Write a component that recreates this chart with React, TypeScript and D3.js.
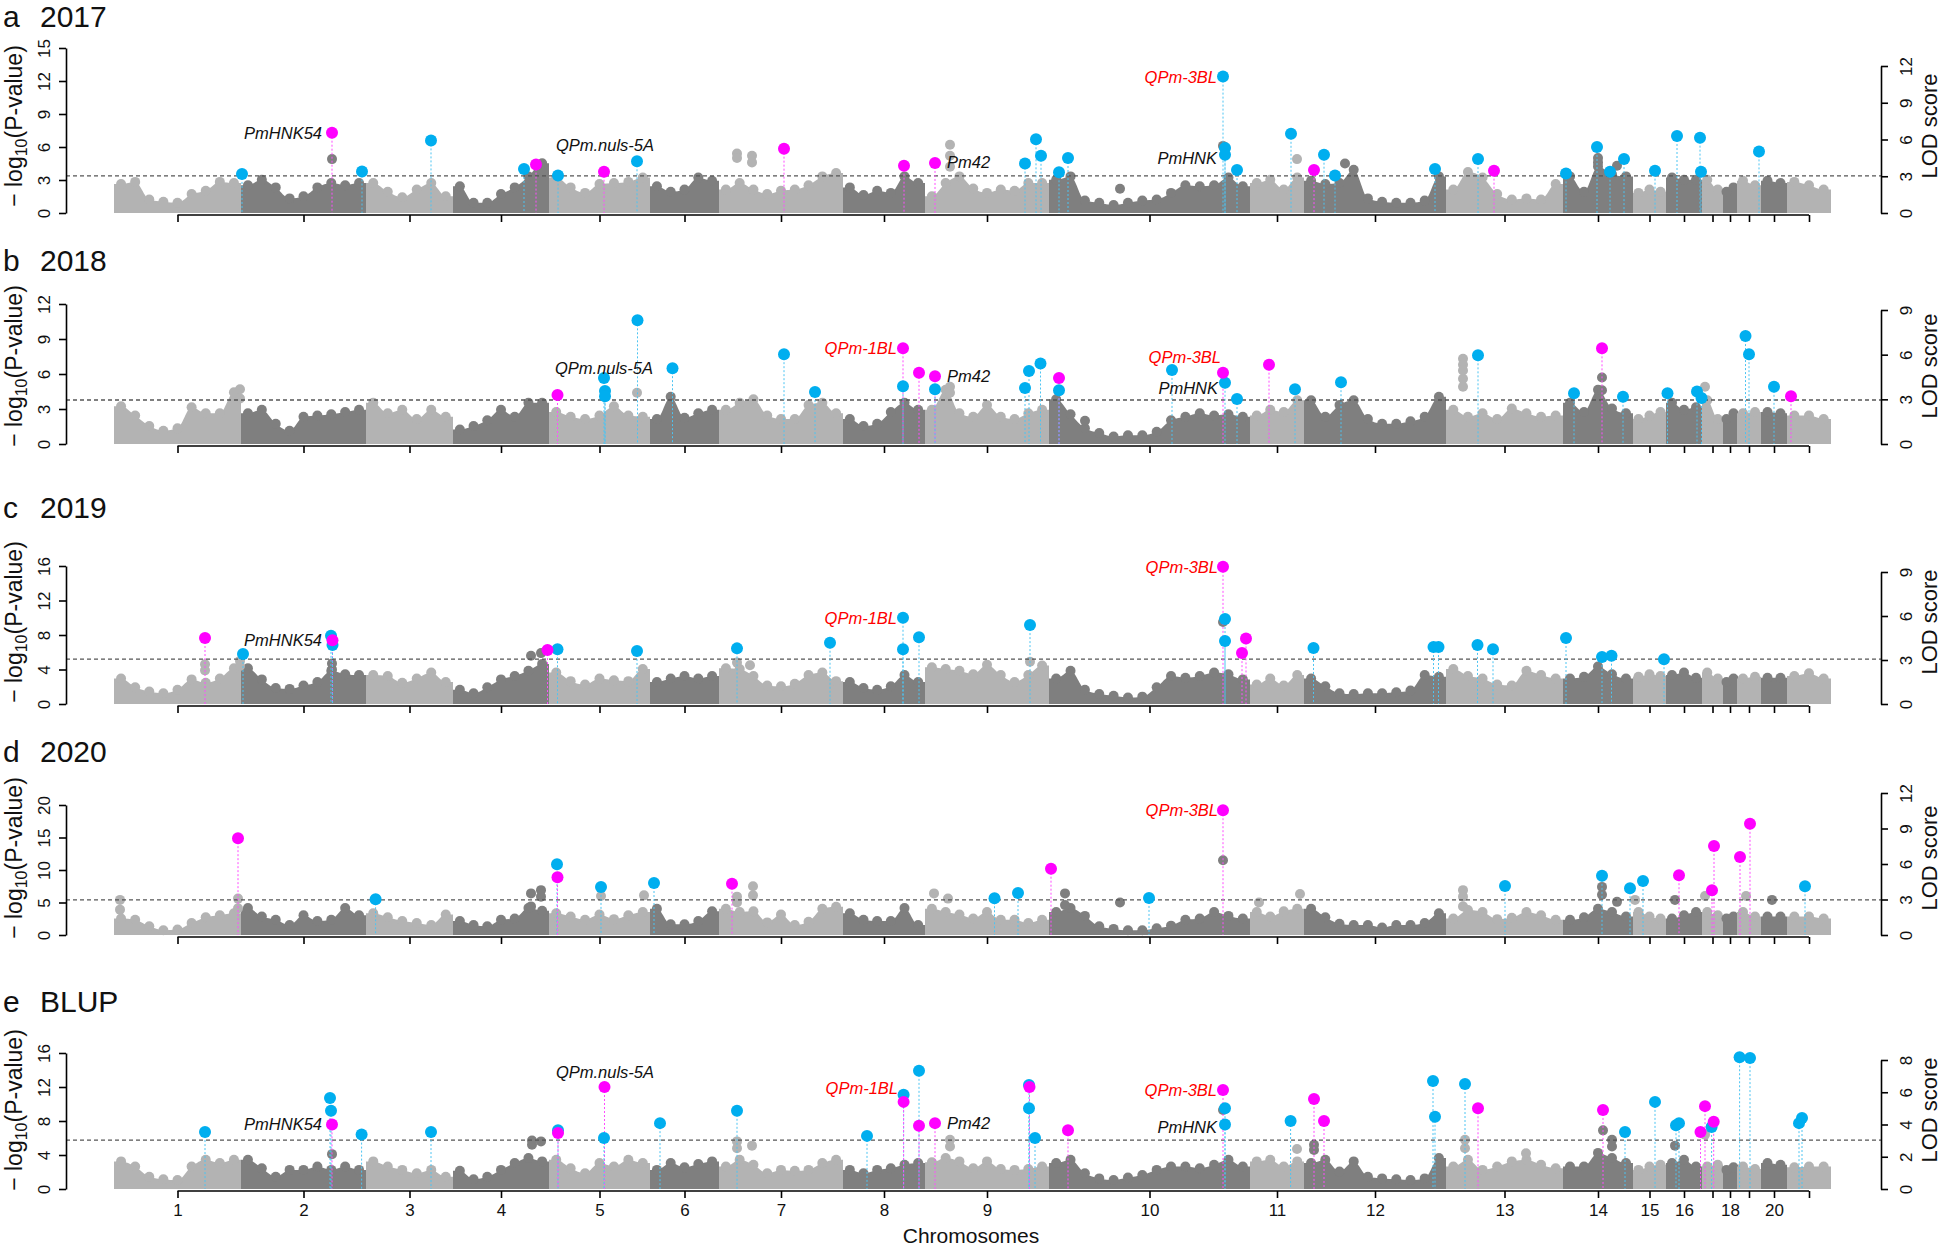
import React, { useEffect, useRef } from 'react';
import * as d3 from 'd3';

// chromosome sizes (relative units) and names
const chromLen = [127, 125, 87, 96, 101, 69, 124, 82, 124, 201, 54, 142, 117, 70, 33, 36, 21, 14, 24, 26, 44];
const chromNames = d3.range(1, 22).map(String);
const hiddenTickLabels = ['17', '19', '21'];

const letters = ['a', 'b', 'c', 'd', 'e'];
const titles = ['2017', '2018', '2019', '2020', 'BLUP'];
const pTicks = [[0, 3, 6, 9, 12, 15], [0, 3, 6, 9, 12], [0, 4, 8, 12, 16], [0, 5, 10, 15, 20], [0, 4, 8, 12, 16]];
const lodTicks = [[0, 3, 6, 9, 12], [0, 3, 6, 9], [0, 3, 6, 9], [0, 3, 6, 9, 12], [0, 2, 4, 6, 8]];
const thresholds = [3.38, 3.77, 5.2, 5.4, 5.76];

// top of the dense background SNP cloud, per chromosome, -log10(P)
const mass2017 = [
  [2.9, 3.1, 1.5, 1.3, 1.2, 2.0, 2.3, 3.1, 3.0],
  [2.8, 3.3, 2.6, 1.6, 1.8, 2.6, 3.0, 2.8, 3.0],
  [3.0, 2.2, 1.7, 2.4, 3.0, 1.8],
  [2.7, 1.2, 1.2, 2.0, 2.6, 3.6, 4.8],
  [3.5, 2.6, 2.1, 2.9, 3.0, 3.1, 3.5],
  [2.7, 2.2, 2.4, 3.5, 3.2],
  [2.4, 3.0, 2.4, 2.0, 2.3, 2.4, 2.8, 3.6, 3.9],
  [2.6, 1.9, 2.3, 2.1, 3.6, 3.0],
  [1.8, 3.0, 3.6, 2.5, 2.1, 2.4, 2.3, 3.0, 3.0],
  [3.3, 3.6, 1.4, 1.2, 1.0, 1.2, 1.4, 1.5, 2.1, 2.8, 2.7, 2.8, 3.5, 2.7],
  [3.0, 3.3, 2.4, 3.5],
  [3.2, 2.9, 3.0, 4.2, 1.6, 1.3, 1.2, 1.2, 1.4, 3.6],
  [2.4, 4.0, 3.5, 2.0, 1.5, 1.6, 1.5, 2.9],
  [3.6, 2.2, 4.5, 3.8, 3.6],
  [2.1, 2.4, 2.2],
  [3.5, 3.3, 3.3],
  [3.3, 2.4],
  [2.2, 2.6],
  [3.2, 2.8],
  [3.2, 3.0],
  [3.1, 2.8, 2.4],
];
const mass2018 = [
  [3.5, 2.7, 1.8, 1.4, 1.6, 3.4, 2.9, 2.9, 4.7],
  [2.9, 3.2, 2.0, 1.4, 2.6, 2.7, 2.8, 3.0, 3.2],
  [3.8, 2.9, 3.2, 2.4, 3.2, 2.6],
  [1.5, 1.8, 2.3, 3.2, 2.6, 3.8, 3.8],
  [3.0, 2.6, 2.4, 2.7, 3.5, 2.7, 2.6],
  [2.4, 4.3, 2.5, 2.9, 3.2],
  [3.2, 3.8, 4.1, 2.7, 2.4, 2.4, 3.6, 3.8, 2.9],
  [2.4, 1.8, 2.0, 3.0, 3.8, 3.2],
  [3.2, 4.9, 2.9, 2.6, 3.6, 2.6, 2.4, 2.9, 3.2],
  [4.1, 2.8, 1.6, 1.2, 0.9, 1.0, 1.0, 1.3, 2.3, 2.6, 2.9, 2.7, 2.8, 2.6],
  [2.7, 3.2, 3.0, 4.0],
  [4.0, 2.6, 3.6, 4.0, 2.4, 2.0, 2.0, 2.2, 2.6, 4.3],
  [3.2, 2.6, 2.9, 2.4, 3.3, 2.9, 2.6, 2.7],
  [3.8, 3.0, 4.9, 3.3, 2.9],
  [2.4, 2.7, 3.0],
  [3.8, 3.2, 3.4],
  [4.0, 2.4],
  [2.4, 2.9],
  [2.9, 3.0],
  [3.0, 2.9],
  [2.7, 2.7, 2.4],
];
const mass2019 = [
  [3.3, 2.3, 1.8, 1.6, 2.0, 3.2, 2.8, 3.3, 4.5],
  [4.5, 3.2, 2.2, 2.1, 2.5, 2.9, 4.2, 3.8, 3.7],
  [3.7, 3.6, 2.8, 3.3, 4.0, 2.9],
  [2.0, 1.6, 2.3, 3.2, 3.6, 4.2, 5.0],
  [4.0, 3.0, 2.6, 3.3, 3.1, 3.0, 4.4],
  [2.9, 3.3, 3.6, 3.3, 3.6],
  [4.5, 4.4, 3.6, 2.5, 2.4, 2.7, 3.7, 4.0, 3.0],
  [2.9, 2.2, 2.0, 2.4, 3.7, 2.9],
  [4.6, 4.4, 4.2, 3.8, 4.9, 3.7, 2.9, 3.7, 4.8],
  [3.3, 4.2, 2.0, 1.5, 1.3, 1.1, 1.2, 2.3, 3.6, 3.4, 3.6, 4.0, 3.8, 3.2],
  [2.6, 3.3, 2.5, 3.7],
  [3.3, 2.4, 1.6, 1.5, 1.6, 1.6, 1.7, 1.9, 3.7, 3.5],
  [4.4, 3.6, 3.3, 2.6, 2.5, 4.2, 3.7, 3.3],
  [3.3, 3.5, 4.7, 3.8, 3.3],
  [3.5, 3.8, 3.6],
  [3.7, 4.0, 3.4],
  [4.0, 3.3],
  [2.9, 3.3],
  [3.3, 3.5],
  [3.4, 3.4],
  [3.6, 3.9, 3.3],
];
const mass2020 = [
  [3.0, 2.8, 1.8, 1.2, 1.3, 2.3, 3.2, 3.5, 3.8],
  [4.6, 3.3, 2.8, 2.0, 3.5, 2.6, 2.8, 4.6, 3.5],
  [3.8, 3.2, 2.6, 2.3, 2.0, 3.6],
  [2.6, 2.0, 1.8, 2.8, 3.0, 4.6, 4.2],
  [3.8, 3.3, 2.8, 3.6, 2.9, 3.5, 4.0],
  [4.5, 2.1, 2.1, 2.6, 4.1],
  [4.5, 4.0, 4.1, 2.4, 3.6, 2.0, 2.5, 4.5, 4.8],
  [3.8, 2.8, 2.6, 2.6, 4.6, 2.0],
  [4.5, 4.0, 3.6, 3.0, 4.0, 2.8, 2.8, 2.3, 2.8],
  [4.0, 4.6, 3.4, 1.8, 1.4, 1.2, 1.2, 1.5, 1.9, 2.8, 3.0, 4.0, 3.4, 3.0],
  [4.0, 3.3, 4.1, 4.5],
  [4.5, 3.2, 2.2, 2.0, 2.0, 1.6, 2.0, 2.0, 2.3, 3.8],
  [3.0, 4.3, 4.0, 2.9, 3.1, 4.0, 3.5, 2.8],
  [2.8, 3.2, 4.5, 4.0, 3.3],
  [4.0, 3.3, 3.0],
  [3.0, 3.5, 4.0],
  [4.0, 3.5],
  [3.0, 3.3],
  [4.0, 3.3],
  [3.3, 3.3],
  [3.3, 3.3, 3.0],
];
const massBLUP = [
  [3.6, 3.0, 1.8, 1.5, 1.4, 3.0, 3.8, 3.4, 3.8],
  [3.8, 2.8, 1.8, 2.6, 2.6, 3.0, 2.6, 3.0, 2.6],
  [3.6, 3.0, 2.6, 2.2, 2.6, 1.8],
  [2.5, 1.5, 1.8, 2.6, 3.4, 4.0, 3.6],
  [3.8, 2.8, 2.2, 3.4, 3.0, 3.8, 3.4],
  [2.6, 3.4, 2.9, 3.3, 3.6],
  [3.0, 3.8, 3.2, 2.2, 2.6, 2.5, 2.6, 3.4, 3.8],
  [2.6, 2.2, 2.6, 2.8, 3.2, 3.4],
  [3.5, 4.0, 3.6, 2.8, 3.6, 2.7, 2.6, 2.7, 3.0],
  [3.4, 3.8, 2.2, 1.6, 1.4, 1.7, 2.0, 2.6, 3.0, 3.0, 2.8, 3.2, 3.8, 3.0],
  [3.6, 3.8, 3.0, 3.6],
  [3.4, 3.8, 2.4, 3.6, 1.8, 1.6, 1.5, 1.4, 1.6, 4.0],
  [3.0, 3.8, 2.6, 3.0, 3.6, 3.8, 3.2, 2.8],
  [3.0, 3.0, 4.6, 4.0, 3.4],
  [2.6, 3.0, 3.2],
  [3.4, 3.8, 3.0],
  [3.0, 3.2],
  [2.6, 2.9],
  [3.0, 2.7],
  [3.4, 3.2],
  [2.9, 3.0, 3.0],
];

// isolated grey SNPs above the cloud: [chromosome, position, -log10(P)]
const out2017 = [[2, 91, 4.9], [7, 18, 5.4], [7, 18, 5.0], [7, 33, 5.2], [7, 33, 4.6], [9, 25, 6.2], [9, 25, 5.2], [9, 25, 4.2], [10, 174, 6.1], [10, 71, 2.2], [11, 47, 4.9], [12, 41, 4.5], [14, 35, 5.0], [14, 35, 4.6], [14, 54, 4.3]];
const out2018 = [[1, 126, 4.7], [1, 126, 3.9], [5, 88, 4.4], [9, 25, 4.9], [9, 25, 4.4], [10, 36, 2.0], [13, 17, 7.3], [13, 17, 6.8], [13, 17, 6.3], [13, 17, 5.6], [13, 17, 4.9], [14, 39, 5.7], [14, 39, 4.6], [17, 3, 4.9]];
const out2019 = [[1, 91, 4.6], [1, 91, 3.9], [1, 126, 5.0], [1, 126, 4.4], [2, 91, 4.7], [2, 91, 4.0], [4, 78, 5.6], [4, 88, 5.9], [7, 18, 4.8], [7, 31, 4.5], [9, 105, 4.9], [10, 174, 9.5]];
const out2020 = [[1, 6, 5.4], [1, 6, 3.9], [1, 124, 5.6], [1, 124, 4.1], [4, 78, 6.4], [4, 78, 4.4], [4, 88, 6.9], [4, 88, 5.9], [5, 52, 6.0], [5, 95, 6.1], [7, 34, 7.5], [7, 34, 6.1], [7, 18, 5.9], [7, 18, 5.0], [9, 9, 6.4], [9, 23, 5.6], [10, 16, 6.4], [10, 16, 4.6], [10, 174, 11.5], [10, 71, 5.0], [11, 9, 5.0], [11, 50, 6.3], [13, 17, 6.9], [13, 17, 5.9], [13, 17, 4.4], [14, 39, 7.4], [14, 39, 6.2], [14, 54, 5.1], [15, 2, 5.4], [16, 9, 5.4], [17, 3, 6.0], [19, 9, 6.0], [20, 11, 5.4]];
const outBLUP = [[2, 91, 4.1], [4, 79, 5.7], [4, 79, 5.2], [4, 88, 5.6], [7, 18, 5.6], [7, 18, 4.8], [7, 33, 5.1], [9, 25, 5.8], [9, 25, 5.0], [10, 174, 9.3], [11, 47, 4.7], [12, 10, 5.2], [12, 10, 4.6], [13, 19, 5.8], [13, 19, 4.8], [13, 80, 4.2], [14, 40, 6.9], [14, 49, 5.8], [14, 49, 5.0], [16, 9, 5.1], [17, 3, 6.4]];

// highlighted loci: [chromosome, position, -log10(P), 'c' cyan | 'm' magenta]
const sig2017 = [
  [2, 1, 3.55, 'c'], [2, 91, 7.3, 'm'], [2, 121, 3.77, 'c'], [3, 65, 6.6, 'c'], [4, 71, 4.0, 'c'], [4, 83, 4.4, 'm'],
  [5, 9, 3.4, 'c'], [5, 55, 3.75, 'm'], [5, 88, 4.7, 'c'], [7, 65, 5.85, 'm'], [8, 61, 4.3, 'm'], [9, 10, 4.55, 'm'],
  [9, 100, 4.5, 'c'], [9, 111, 6.7, 'c'], [9, 116, 5.2, 'c'], [10, 10, 3.7, 'c'], [10, 19, 5.0, 'c'], [10, 174, 12.4, 'c'],
  [10, 176, 5.9, 'c'], [10, 176, 5.3, 'c'], [10, 188, 3.9, 'c'], [11, 41, 7.2, 'c'], [12, 10, 3.9, 'm'], [12, 20, 5.3, 'c'],
  [12, 31, 3.4, 'c'], [12, 131, 4.0, 'c'], [13, 32, 4.9, 'c'], [13, 48, 3.85, 'm'], [14, 3, 3.6, 'c'], [14, 34, 6.0, 'c'],
  [14, 47, 3.75, 'c'], [14, 61, 4.9, 'c'], [15, 22, 3.85, 'c'], [16, 11, 7.0, 'c'], [16, 34, 6.85, 'c'], [16, 35, 3.75, 'c'],
  [19, 22, 5.6, 'c'],
];
const sig2018 = [
  [5, 8.5, 4.2, 'm'], [5, 55, 5.65, 'c'], [5, 56, 4.55, 'c'], [5, 56, 4.1, 'c'], [5, 88.5, 10.6, 'c'], [6, 22.5, 6.5, 'c'],
  [7, 65, 7.7, 'c'], [7, 96, 4.45, 'c'], [8, 60, 8.2, 'm'], [8, 60, 4.95, 'c'], [8, 76, 6.1, 'm'], [9, 10, 5.8, 'm'],
  [9, 10, 4.7, 'c'], [9, 100, 4.8, 'c'], [9, 104, 6.25, 'c'], [9, 115.5, 6.9, 'c'], [10, 10, 5.65, 'm'], [10, 10, 4.6, 'c'],
  [10, 123, 6.35, 'c'], [10, 174, 6.1, 'm'], [10, 176, 5.25, 'c'], [10, 188, 3.85, 'c'], [11, 19, 6.8, 'm'], [11, 45, 4.7, 'c'],
  [12, 37, 5.3, 'c'], [13, 32, 7.6, 'c'], [14, 11, 4.35, 'c'], [14, 39, 8.2, 'm'], [14, 60, 4.05, 'c'], [16, 1.5, 4.35, 'c'],
  [16, 31, 4.5, 'c'], [16, 35.5, 3.95, 'c'], [19, 8.5, 9.25, 'c'], [19, 12, 7.7, 'c'], [20, 13, 4.9, 'c'], [21, 4, 4.1, 'm'],
];
const sig2019 = [
  [1, 91, 7.65, 'm'], [2, 2, 5.8, 'c'], [2, 90, 7.9, 'c'], [2, 91.5, 7.4, 'm'], [2, 91.5, 6.85, 'c'], [4, 94.5, 6.25, 'm'],
  [5, 8.5, 6.35, 'c'], [5, 88, 6.15, 'c'], [7, 18, 6.45, 'c'], [7, 111, 7.1, 'c'], [8, 60, 10.0, 'c'], [8, 60, 6.35, 'c'],
  [8, 76, 7.75, 'c'], [9, 105, 9.15, 'c'], [10, 174, 15.9, 'm'], [10, 176, 9.85, 'c'], [10, 176, 7.3, 'c'], [10, 197, 7.6, 'm'],
  [10, 193, 5.9, 'm'], [12, 9.5, 6.5, 'c'], [12, 129.5, 6.6, 'c'], [12, 134.5, 6.6, 'c'], [13, 31.5, 6.85, 'c'], [13, 47, 6.35, 'c'],
  [14, 3, 7.65, 'c'], [14, 39, 5.45, 'c'], [14, 48.5, 5.6, 'c'], [15, 31, 5.2, 'c'],
];
const sig2020 = [
  [1, 124, 14.9, 'm'], [3, 9.6, 5.5, 'c'], [5, 8, 10.9, 'c'], [5, 8.5, 8.9, 'm'], [5, 52, 7.4, 'c'], [6, 4, 8.0, 'c'],
  [7, 13, 7.9, 'm'], [9, 69.5, 5.65, 'c'], [9, 93, 6.45, 'c'], [10, 2, 10.2, 'm'], [10, 100, 5.7, 'c'], [10, 174, 19.2, 'm'],
  [13, 59, 7.55, 'c'], [14, 39, 9.1, 'c'], [14, 67, 7.2, 'c'], [15, 10, 8.3, 'c'], [16, 13, 9.2, 'm'], [17, 10, 6.9, 'm'],
  [17, 12, 13.7, 'm'], [19, 3, 12.0, 'm'], [19, 13, 17.1, 'm'], [21, 18, 7.5, 'c'],
];
const sigBLUP = [
  [1, 91, 6.7, 'c'], [2, 89, 10.7, 'c'], [2, 90, 9.2, 'c'], [2, 91, 7.6, 'm'], [2, 120.6, 6.4, 'c'], [3, 65, 6.7, 'c'],
  [5, 9, 6.9, 'c'], [5, 9, 6.6, 'm'], [5, 55.5, 12.0, 'm'], [5, 55, 6.0, 'c'], [6, 10, 7.75, 'c'], [7, 18, 9.2, 'c'],
  [8, 24, 6.25, 'c'], [8, 60.6, 11.1, 'c'], [8, 60.6, 10.25, 'm'], [8, 76, 13.9, 'c'], [8, 76, 7.45, 'm'], [9, 10, 7.75, 'm'],
  [9, 104, 12.25, 'c'], [9, 104.5, 12.0, 'm'], [9, 104, 9.5, 'c'], [9, 110, 6.0, 'c'], [10, 19, 6.9, 'm'], [10, 174, 11.65, 'm'],
  [10, 176, 9.5, 'c'], [10, 176, 7.6, 'c'], [11, 40.6, 8.0, 'c'], [12, 10, 10.6, 'm'], [12, 20, 8.0, 'm'], [12, 129, 12.7, 'c'],
  [12, 131, 8.5, 'c'], [13, 19, 12.35, 'c'], [13, 32, 9.5, 'm'], [14, 40, 9.3, 'm'], [14, 62, 6.7, 'c'], [15, 22, 10.25, 'c'],
  [16, 10, 7.5, 'c'], [16, 13, 7.75, 'c'], [16, 34.5, 6.7, 'm'], [17, 3, 9.75, 'm'], [17, 9.6, 7.3, 'c'], [17, 11.7, 7.9, 'm'],
  [19, 2.6, 15.5, 'c'], [19, 13, 15.4, 'c'], [21, 12, 7.75, 'c'], [21, 15, 8.35, 'c'],
];

// gene / QTL names: [text, chromosome, position, -log10(P), anchor, red]
const lab2017 = [['PmHNK54', 2, 81, 7.3, 'end', 0], ['QPm.nuls-5A', 6, 4, 6.2, 'end', 0], ['Pm42', 9, 22, 4.6, 'start', 0], ['QPm-3BL', 10, 168, 12.4, 'end', 1], ['PmHNK', 10, 168, 5.0, 'end', 0]];
const lab2018 = [['QPm.nuls-5A', 6, 3, 6.5, 'end', 0], ['QPm-1BL', 8, 54, 8.2, 'end', 1], ['Pm42', 9, 22, 5.8, 'start', 0], ['QPm-3BL', 10, 172, 7.45, 'end', 1], ['PmHNK', 10, 169, 4.8, 'end', 0]];
const lab2019 = [['PmHNK54', 2, 81, 7.4, 'end', 0], ['QPm-1BL', 8, 54, 10.0, 'end', 1], ['QPm-3BL', 10, 169, 15.9, 'end', 1]];
const lab2020 = [['QPm-3BL', 10, 169, 19.2, 'end', 1]];
const labBLUP = [['PmHNK54', 2, 81, 7.6, 'end', 0], ['QPm.nuls-5A', 6, 4, 13.8, 'end', 0], ['QPm-1BL', 8, 55, 11.9, 'end', 1], ['Pm42', 9, 22, 7.8, 'start', 0], ['QPm-3BL', 10, 168, 11.65, 'end', 1], ['PmHNK', 10, 168, 7.3, 'end', 0]];

const masses = [mass2017, mass2018, mass2019, mass2020, massBLUP];
const outliers = [out2017, out2018, out2019, out2020, outBLUP];
const sigs = [sig2017, sig2018, sig2019, sig2020, sigBLUP];
const labels = [lab2017, lab2018, lab2019, lab2020, labBLUP];

// page layout (pixels)
const W = 1946;
const H = 1247;
const layout = [
  { zero: 213, pTop: 48, lodTop: 66, title: 27, mid: 126 },
  { zero: 444, pTop: 304, lodTop: 310, title: 271, mid: 366 },
  { zero: 704, pTop: 566, lodTop: 572, title: 518, mid: 622 },
  { zero: 935, pTop: 805, lodTop: 793, title: 762, mid: 858 },
  { zero: 1189, pTop: 1053, lodTop: 1060, title: 1012, mid: 1110 },
];
const FONT = '"Liberation Sans", Arial, Helvetica, sans-serif';
const LIGHT = '#b3b3b3';
const DARK = '#7f7f7f';
const CYAN = '#00aeef';
const MAGENTA = '#ff00ff';
const CYAN_STEM = '#4cc4f2';
const MAG_STEM = '#ff4cff';

const App = () => {
  const ref = useRef(null);

  useEffect(() => {
    document.body.style.margin = '0';
    const svg = d3.select(ref.current);
    svg.selectAll('*').remove();

    const starts = [0, ...Array.from(d3.cumsum(chromLen))];
    const total = d3.sum(chromLen);
    const x = d3.scaleLinear().domain([0, total]).range([114, 1831]);
    const gx = (c, p) => x(starts[c - 1] + p);
    const centers = chromLen.map((l, i) => starts[i] + l / 2);
    const axisLeftX = 66;
    const axisRightX = 1881;

    layout.forEach((L, k) => {
      const g = svg.append('g');
      const y = d3.scaleLinear().domain([0, d3.max(pTicks[k])]).range([L.zero, L.pTop]);
      const yl = d3.scaleLinear().domain([0, d3.max(lodTicks[k])]).range([L.zero, L.lodTop]);

      // title
      const t = g.append('text').attr('y', L.title).attr('font-family', FONT).attr('font-size', 30).attr('fill', '#111');
      t.append('tspan').attr('x', 3).text(letters[k]);
      t.append('tspan').attr('x', 40).text(titles[k]);

      // background cloud
      masses[k].forEach((vals, ci) => {
        const s = starts[ci];
        const len = chromLen[ci];
        const n = vals.length;
        const pts = vals.map((v, j) => [s + ((j + 0.5) * len) / n, v]);
        const shape = [[s, vals[0]], ...pts, [s + len, vals[n - 1]]];
        const fill = ci % 2 === 0 ? LIGHT : DARK;
        const area = d3.area()
          .x(d => x(d[0]))
          .y0(L.zero)
          .y1(d => y(d[1]) + 3)
          .curve(d3.curveMonotoneX);
        g.append('path').datum(shape).attr('d', area).attr('fill', fill);
        g.append('g').selectAll('circle')
          .data(pts)
          .enter()
          .append('circle')
          .attr('cx', d => x(d[0]))
          .attr('cy', d => y(d[1]) + 3)
          .attr('r', 5)
          .attr('fill', fill);
      });

      g.append('g').selectAll('circle')
        .data(outliers[k])
        .enter()
        .append('circle')
        .attr('cx', d => gx(d[0], d[1]))
        .attr('cy', d => y(d[2]))
        .attr('r', 5)
        .attr('fill', d => ((d[0] - 1) % 2 === 0 ? LIGHT : DARK));

      // threshold
      g.append('line')
        .attr('x1', axisLeftX).attr('x2', axisRightX)
        .attr('y1', y(thresholds[k])).attr('y2', y(thresholds[k]))
        .attr('stroke', '#555').attr('stroke-width', 1.3).attr('stroke-dasharray', '4,3');

      // stems and highlighted points
      const sig = sigs[k];
      g.append('g').selectAll('line')
        .data(sig)
        .enter()
        .append('line')
        .attr('x1', d => gx(d[0], d[1])).attr('x2', d => gx(d[0], d[1]))
        .attr('y1', d => y(d[2])).attr('y2', L.zero)
        .attr('stroke', d => (d[3] === 'c' ? CYAN_STEM : MAG_STEM))
        .attr('stroke-width', 1)
        .attr('stroke-dasharray', '2,2');
      ['c', 'm'].forEach(type => {
        g.append('g').selectAll('circle')
          .data(sig.filter(d => d[3] === type))
          .enter()
          .append('circle')
          .attr('cx', d => gx(d[0], d[1]))
          .attr('cy', d => y(d[2]))
          .attr('r', 6)
          .attr('fill', type === 'c' ? CYAN : MAGENTA);
      });

      // labels
      g.append('g').selectAll('text')
        .data(labels[k])
        .enter()
        .append('text')
        .attr('x', d => gx(d[1], d[2]))
        .attr('y', d => y(d[3]))
        .attr('dy', '0.36em')
        .attr('text-anchor', d => d[4])
        .attr('font-family', FONT)
        .attr('font-style', 'italic')
        .attr('font-size', 16.5)
        .attr('fill', d => (d[5] ? '#ff0000' : '#111'))
        .text(d => d[0]);

      // left axis
      const la = g.append('g')
        .attr('transform', `translate(${axisLeftX},0)`)
        .call(d3.axisLeft(y).tickValues(pTicks[k]).tickSize(7).tickSizeOuter(0));
      la.select('.domain').attr('stroke-width', 1.6);
      la.selectAll('.tick line').attr('stroke-width', 1.6);
      la.selectAll('.tick text')
        .attr('x', null).attr('y', null)
        .attr('transform', 'translate(-22,0) rotate(-90)')
        .attr('text-anchor', 'middle')
        .attr('dy', '0.35em')
        .attr('font-family', FONT)
        .attr('font-size', 17)
        .attr('fill', '#111');

      // right LOD axis
      const ra = g.append('g')
        .attr('transform', `translate(${axisRightX},0)`)
        .call(d3.axisRight(yl).tickValues(lodTicks[k]).tickSize(7).tickSizeOuter(0));
      ra.select('.domain').attr('stroke-width', 1.6);
      ra.selectAll('.tick line').attr('stroke-width', 1.6);
      ra.selectAll('.tick text')
        .attr('x', null).attr('y', null)
        .attr('transform', 'translate(25,0) rotate(-90)')
        .attr('text-anchor', 'middle')
        .attr('dy', '0.35em')
        .attr('font-family', FONT)
        .attr('font-size', 17)
        .attr('fill', '#111');

      // axis titles
      const yt = g.append('text')
        .attr('transform', `translate(14,${L.mid}) rotate(-90)`)
        .attr('text-anchor', 'middle')
        .attr('dy', '0.35em')
        .attr('font-family', FONT)
        .attr('font-size', 23)
        .attr('fill', '#111');
      yt.append('tspan').text('\u2212 log');
      yt.append('tspan').attr('font-size', 16).attr('dy', 5).text('10');
      yt.append('tspan').attr('dy', -5).text('(P-value)');

      g.append('text')
        .attr('transform', `translate(1929,${L.mid}) rotate(-90)`)
        .attr('text-anchor', 'middle')
        .attr('dy', '0.35em')
        .attr('font-family', FONT)
        .attr('font-size', 22)
        .attr('fill', '#111')
        .text('LOD score');

      // chromosome axis
      const xa = g.append('g')
        .attr('transform', `translate(0,${L.zero + 2})`)
        .call(d3.axisBottom(x)
          .tickValues(centers)
          .tickSize(7)
          .tickSizeOuter(0)
          .tickFormat((d, i) => (k === 4 && !hiddenTickLabels.includes(chromNames[i]) ? chromNames[i] : '')));
      xa.select('.domain').remove();
      xa.append('line')
        .attr('x1', x(centers[0])).attr('x2', x(centers[centers.length - 1]))
        .attr('stroke', '#000').attr('stroke-width', 1.6);
      xa.selectAll('.tick line').attr('stroke-width', 1.6);
      xa.selectAll('.tick text')
        .attr('y', 13)
        .attr('dy', '0.71em')
        .attr('font-family', FONT)
        .attr('font-size', 17)
        .attr('fill', '#111');
    });

    svg.append('text')
      .attr('x', 971)
      .attr('y', 1243)
      .attr('text-anchor', 'middle')
      .attr('font-family', FONT)
      .attr('font-size', 21)
      .attr('fill', '#111')
      .text('Chromosomes');
  }, []);

  return <svg ref={ref} width={W} height={H} style={{ display: 'block', background: '#fff' }} />;
};

export default App;
